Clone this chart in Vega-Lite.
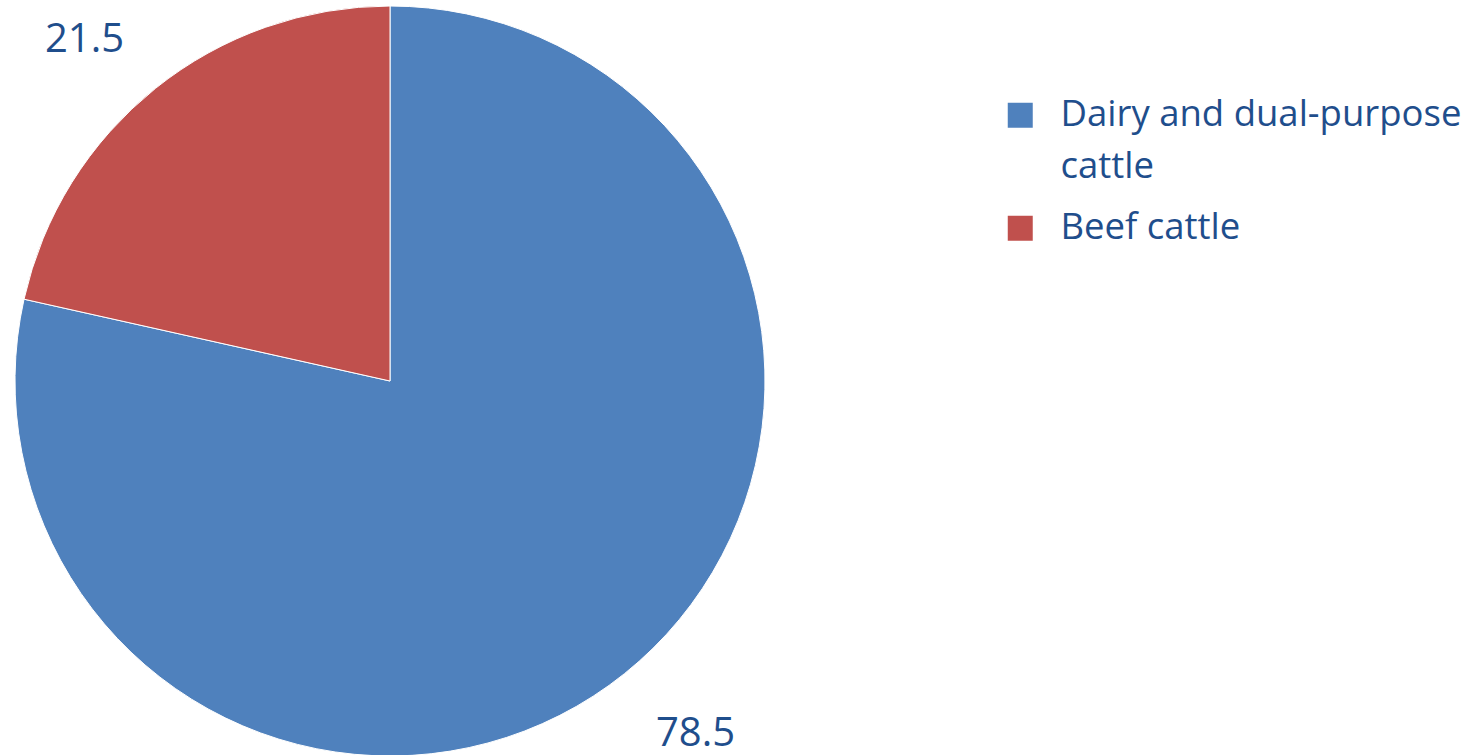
{
  "$schema": "https://vega.github.io/schema/vega-lite/v6.json",
  "width": 780,
  "height": 762,
  "padding": 0,
  "background": "white",
  "config": {"view": {"stroke": null}, "font": "Open Sans", "style": {"guide-label": {"lineHeight": 52}}},
  "data": {"values": [
    {"category": "Dairy and dual-purpose cattle", "value": 78.5, "order": 1},
    {"category": "Beef cattle", "value": 21.5, "order": 2}
  ]},
  "encoding": {
    "theta": {"field": "value", "type": "quantitative", "stack": true},
    "order": {"field": "order", "type": "quantitative"}
  },
  "layer": [
    {"mark": {"type": "arc", "outerRadius": 375, "stroke": "white", "strokeWidth": 1},
     "encoding": {
      "color": {
        "field": "category", "type": "nominal",
        "scale": {"domain": ["Dairy and dual-purpose cattle", "Beef cattle"], "range": ["#4F81BD", "#C0504D"]},
        "legend": {
          "title": null, "orient": "none", "legendX": 1002, "legendY": 97,
          "symbolType": "square", "symbolSize": 625, "symbolStrokeWidth": 0,
          "labelFontSize": 36.5, "labelColor": "#1F4E8C", "labelFont": "Open Sans",
          "labelLimit": 600, "labelOffset": 22, "rowPadding": 24,
          "labelExpr": "datum.label == 'Dairy and dual-purpose cattle' ? ['Dairy and dual-purpose', 'cattle'] : datum.label"
        }
      }
     }},
    {"mark": {"type": "text", "radius": 462, "thetaOffset": -0.047, "dy": 6, "fontSize": 40, "color": "#1F4E8C", "font": "Open Sans"},
     "encoding": {"text": {"field": "value", "type": "quantitative", "format": ".1f"}}}
  ]
}
